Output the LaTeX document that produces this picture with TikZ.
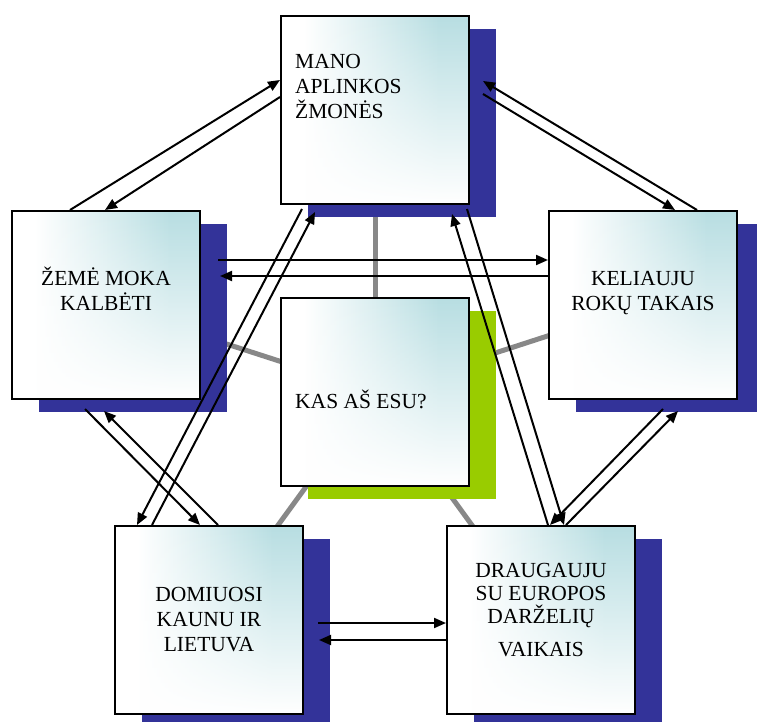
\documentclass[tikz,border=0pt]{standalone}
\usepackage{fontspec}
\setmainfont{Liberation Serif}
\usepackage{tikz}
\usetikzlibrary{shadows}
\usetikzlibrary{arrows.meta}
\usetikzlibrary{backgrounds}
\usetikzlibrary{fadings}

\definecolor{boxteal}{RGB}{184,222,226}
\definecolor{shadowblue}{RGB}{51,51,153}
\definecolor{shadowgreen}{RGB}{153,204,0}
\definecolor{spokegray}{RGB}{136,136,136}

\pgfdeclarehorizontalshading{boxside}{100bp}{color(0bp)=(white); color(31bp)=(white); color(67bp)=(boxteal); color(100bp)=(boxteal)}
\tikzfading[name=fadeup, top color=transparent!100, middle color=transparent!88, bottom color=transparent!0]

\tikzset{
	topic/.style={draw, line width=2pt, minimum size=188pt, inner sep=0pt,
		path picture={
			\fill [shading=boxside] (path picture bounding box.south west) rectangle (path picture bounding box.north east);
			\fill [white, path fading=fadeup] (path picture bounding box.south west) rectangle (path picture bounding box.north east);
		},
		drop shadow={shadow xshift=27pt, shadow yshift=-13pt, opacity=1, fill=#1}},
	topic/.default=shadowblue,
	lbl/.style={inner sep=0pt, align=center, font=\fontsize{21.5}{25}\selectfont},
	link/.style={line width=2pt, -{Triangle[length=12pt, width=10pt]}},
	spoke/.style={line width=5pt, spokegray}
}

\begin{document}
\begin{tikzpicture}[x=1pt, y=-1pt]
		\useasboundingbox (0,0) rectangle (757,722);
		% the six topics
		\node [topic] (mano) at (375,110) {};
		\node [topic] (zeme) at (106,305) {};
		\node [topic] (keliauju) at (643,305) {};
		\node [topic=shadowgreen] (kas) at (375,392) {};
		\node [topic] (domiuosi) at (209,620) {};
		\node [topic] (draugauju) at (541,620) {};
		\node [lbl, align=left, anchor=north west] (mano-t) at ([shift={(15,39)}]mano.north west) {MANO\\APLINKOS\\ŽMONĖS};
		\node [lbl, anchor=north] (zeme-t) at ([shift={(0,57)}]zeme.north) {ŽEMĖ MOKA\\KALBĖTI};
		\node [lbl, anchor=north] (keliauju-t) at ([shift={(0,61)}]keliauju.north) {KELIAUJU\\ROKŲ TAKAIS};
		\node [lbl, anchor=base west] (kas-t) at ([shift={(15,16)}]kas.west) {KAS AŠ ESU?};
		\node [lbl, anchor=north] (domiuosi-t) at ([shift={(0,62)}]domiuosi.north) {DOMIUOSI\\KAUNU IR\\LIETUVA};
		\node [lbl, anchor=north, font=\fontsize{21.5}{23}\selectfont] (draugauju-t) at ([shift={(0,38)}]draugauju.north) {DRAUGAUJU\\SU EUROPOS\\DARŽELIŲ\\[10pt]VAIKAIS};
		% grey spokes behind everything
		\begin{scope}[on background layer]
			\foreach \t in {mano, zeme, keliauju, domiuosi, draugauju}
				\draw [spoke] (kas.center) -- (\t.center);
		\end{scope}
		% arrows
		\draw [link] ([shift={(-36,0)}]zeme.north) -- ([shift={(0,-30)}]mano.west);
		\draw [link] ([shift={(0,-13)}]mano.west) -- ([shift={(-1,0)}]zeme.north);
		\draw [link] ([shift={(54,0)}]keliauju.north) -- ([shift={(13,-29)}]mano.east);
		\draw [link] ([shift={(13,-16)}]mano.east) -- ([shift={(32,0)}]keliauju.north);
		\draw [link] ([shift={(17,-45)}]zeme.east) -- ([shift={(0,-45)}]keliauju.west);
		\draw [link] ([shift={(0,-29)}]keliauju.west) -- ([shift={(19,-29)}]zeme.east);
		\draw [link] ([shift={(-73,4)}]mano.south) -- ([shift={(-72,0)}]domiuosi.north);
		\draw [link] ([shift={(-57,0)}]domiuosi.north) -- ([shift={(-60,7)}]mano.south);
		\draw [link] ([shift={(-21,9)}]zeme.south) -- ([shift={(-9,0)}]domiuosi.north);
		\draw [link] ([shift={(9,0)}]domiuosi.north) -- ([shift={(-2,11)}]zeme.south);
		\draw [link] ([shift={(7,0)}]draugauju.north) -- ([shift={(77,9)}]mano.south);
		\draw [link] ([shift={(92,4)}]mano.south) -- ([shift={(23,0)}]draugauju.north);
		\draw [link] ([shift={(20,9)}]keliauju.south) -- ([shift={(9,0)}]draugauju.north);
		\draw [link] ([shift={(25,0)}]draugauju.north) -- ([shift={(35,11)}]keliauju.south);
		\draw [link] ([shift={(14,3)}]domiuosi.east) -- ([shift={(0,3)}]draugauju.west);
		\draw [link] ([shift={(0,20)}]draugauju.west) -- ([shift={(15,20)}]domiuosi.east);
	\end{tikzpicture}
\end{document}
